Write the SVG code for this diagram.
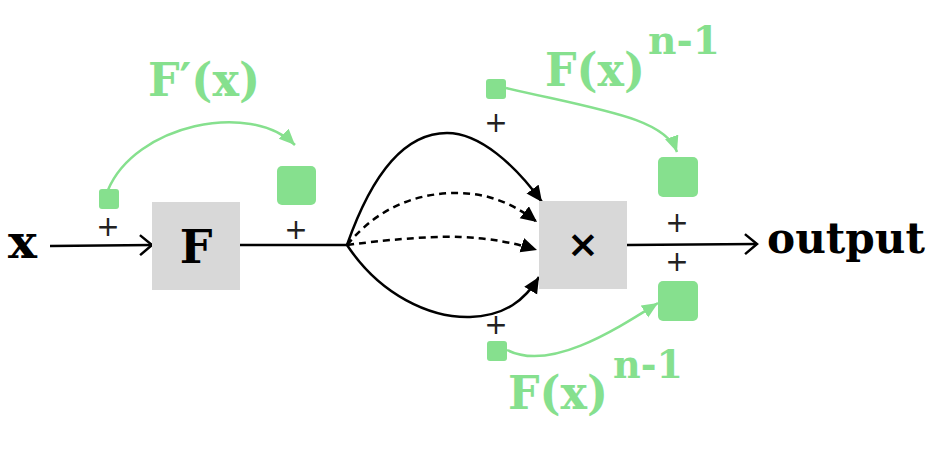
<svg xmlns="http://www.w3.org/2000/svg" width="932" height="451" viewBox="0 0 932 451">
<style>
.g{fill:#86e08e}
.box{fill:#d8d8d8}
.lbl{font-family:"DejaVu Serif","Liberation Serif",serif;font-weight:bold}
.gl{fill:#86e08e}
.plus{font-family:"DejaVu Sans","Liberation Sans",sans-serif;font-size:28px;fill:#222;text-anchor:middle}
.k{fill:none;stroke:#000;stroke-width:2.5}
.d{stroke-dasharray:7 5}
.ga{fill:none;stroke:#86e08e;stroke-width:2.5}
</style>
<defs>
<marker id="tri" markerUnits="userSpaceOnUse" markerWidth="18" markerHeight="16" refX="16" refY="7.5" orient="auto" viewBox="0 0 18 16">
<path d="M0,0 L16,7.5 L0,15 z" fill="#000"/>
</marker>
<marker id="gtri" markerUnits="userSpaceOnUse" markerWidth="18" markerHeight="16" refX="16" refY="7" orient="auto" viewBox="0 0 18 16">
<path d="M0,0 L16,7 L0,14 z" fill="#86e08e"/>
</marker>
<marker id="open" markerUnits="userSpaceOnUse" markerWidth="16" markerHeight="24" refX="13" refY="11" orient="auto" viewBox="0 0 16 24">
<path d="M1,1 L13,11 L1,21" fill="none" stroke="#000" stroke-width="2.5"/>
</marker>
</defs>

<g id="connectors">
<path class="k" d="M50,246 L152,245" marker-end="url(#open)"/>
<path class="k" d="M240,245 L347,245"/>
<path class="k" d="M347,245 C375,165 410,133 447,133 C480,133 515,165 542,202" marker-end="url(#tri)"/>
<path class="k d" d="M347,245 C380,205 420,193 457,193 C490,193 515,205 537,222" marker-end="url(#tri)"/>
<path class="k d" d="M347,245 C400,238 440,236 460,237 C490,238 515,243 537,250" marker-end="url(#tri)"/>
<path class="k" d="M347,245 C380,295 430,318 470,317 C505,316 525,300 539,277" marker-end="url(#tri)"/>
<path class="k" d="M627,245 L757,244" marker-end="url(#open)"/>
<path class="ga" d="M108,190 C135,125 250,100 295,145" marker-end="url(#gtri)"/>
<path class="ga" d="M506,88 C600,110 665,118 677,152" marker-end="url(#gtri)"/>
<path class="ga" d="M507,350 C550,372 615,330 658,303" marker-end="url(#gtri)"/>
</g>

<g id="input">
<text class="lbl" x="8" y="258" font-size="46" textLength="29" lengthAdjust="spacingAndGlyphs">x</text>
</g>

<g id="F-box">
<rect class="box" x="152" y="202" width="88" height="88"/>
<text class="lbl" x="196" y="263" font-size="46" text-anchor="middle">F</text>
</g>

<g id="mult-box">
<rect class="box" x="539" y="201" width="88" height="88"/>
<text x="583" y="257" font-family="DejaVu Sans, sans-serif" font-weight="bold" font-size="38" text-anchor="middle">×</text>
</g>

<g id="output">
<text class="lbl" x="767" y="253" font-size="42" textLength="158" lengthAdjust="spacingAndGlyphs">output</text>
</g>

<g id="dF-small">
<rect class="g" x="99" y="189" width="20" height="20" rx="3"/>
<text class="plus" x="108" y="236">+</text>
</g>
<g id="dF-big">
<rect class="g" x="277" y="166" width="39" height="39" rx="5"/>
<text class="plus" x="296" y="239">+</text>
</g>
<g id="dF-label">
<text class="lbl gl" x="148" y="96" font-size="46" textLength="112" lengthAdjust="spacingAndGlyphs">F′(x)</text>
</g>

<g id="top-small">
<rect class="g" x="486" y="79" width="20" height="20" rx="3"/>
<text class="plus" x="496" y="132">+</text>
</g>
<g id="top-big">
<rect class="g" x="658" y="157" width="40" height="40" rx="5"/>
<text class="plus" x="677" y="232">+</text>
</g>
<g id="top-label">
<text class="lbl gl" x="545" y="86" font-size="46" textLength="100" lengthAdjust="spacingAndGlyphs">F(x)</text>
<text class="lbl gl" x="648" y="54" font-size="40" textLength="72" lengthAdjust="spacingAndGlyphs">n-1</text>
</g>

<g id="bottom-small">
<rect class="g" x="487" y="341" width="20" height="20" rx="3"/>
<text class="plus" x="496" y="334">+</text>
</g>
<g id="bottom-big">
<rect class="g" x="658" y="281" width="40" height="40" rx="5"/>
<text class="plus" x="677" y="271">+</text>
</g>
<g id="bottom-label">
<text class="lbl gl" x="508" y="409" font-size="46" textLength="100" lengthAdjust="spacingAndGlyphs">F(x)</text>
<text class="lbl gl" x="613" y="378" font-size="40" textLength="70" lengthAdjust="spacingAndGlyphs">n-1</text>
</g>
</svg>
